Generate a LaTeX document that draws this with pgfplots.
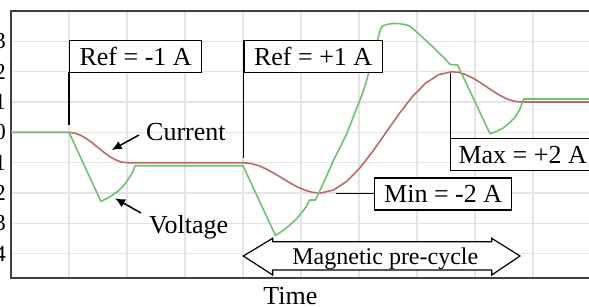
\documentclass[border=0pt]{standalone}
\usepackage{fontspec}
\setmainfont{Liberation Serif}
\usepackage{pgfplots}
\pgfplotsset{compat=1.18}
\usepackage{pgfplotstable}
\usetikzlibrary{arrows.meta}
\definecolor{curred}{RGB}{190,105,105}
\definecolor{volgreen}{RGB}{112,192,112}
\definecolor{framegray}{RGB}{64,64,64}
\definecolor{gridgray}{RGB}{228,228,228}

\pgfplotstableread{
x y
0 0
1 0
1.1 -0.0245
1.2 -0.0955
1.3 -0.2061
1.4 -0.3455
1.5 -0.5
1.6 -0.6545
1.7 -0.7939
1.8 -0.9045
1.9 -0.9755
2 -1
4 -1
4.133 -1.0245
4.267 -1.0955
4.4 -1.2061
4.533 -1.3455
4.667 -1.5
4.8 -1.6545
4.933 -1.7939
5.067 -1.9045
5.2 -1.9755
5.333 -2
5.56 -1.902
5.787 -1.618
6.013 -1.176
6.24 -0.618
6.467 0
6.693 0.618
6.92 1.176
7.147 1.618
7.373 1.902
7.6 2
7.72 1.9755
7.84 1.9045
7.96 1.7939
8.08 1.6545
8.2 1.5
8.32 1.3455
8.44 1.2061
8.56 1.0955
8.68 1.0245
8.8 1
10.5 1
}\currenttable

\pgfplotstableread{
x y
0 0
1 0
1.55 -2.27
1.62 -2.21
1.70 -2.13
1.77 -2.04
1.85 -1.93
1.92 -1.80
1.98 -1.66
2.03 -1.52
2.07 -1.40
2.11 -1.25
2.14 -1.10
4.0 -1.10
4.56 -3.40
4.68 -3.25
4.81 -3.05
4.92 -2.86
5.01 -2.65
5.09 -2.45
5.15 -2.23
5.25 -2.23
5.33 -1.90
5.45 -1.40
5.56 -0.92
5.68 -0.47
5.79 -0.04
5.89 0.45
5.99 0.94
6.07 1.33
6.13 1.70
6.22 2.36
6.30 2.90
6.36 3.34
6.40 3.50
6.48 3.56
6.60 3.59
6.71 3.58
6.80 3.55
6.88 3.50
6.94 3.40
7.05 3.21
7.17 3.00
7.29 2.79
7.40 2.58
7.49 2.41
7.57 2.24
7.70 2.22
8.26 -0.05
8.38 0.04
8.49 0.15
8.60 0.32
8.69 0.50
8.77 0.75
8.84 1.10
10.5 1.10
}\voltagetable

\begin{document}
\begin{tikzpicture}
\begin{axis}[
  at={(11pt,-11pt)}, anchor=north west,
  scale only axis, width=580pt, height=267pt,
  xmin=0, xmax=10, ymin=-4.8, ymax=4,
  xtick={1,...,10}, xticklabels={},
  ytick={-4,...,4}, yticklabels={-4,-3,-2,-1,0,1,2,3,{}},
  major tick length=0pt,
  grid=major, major grid style={gridgray, line width=1.2pt},
  axis line style={framegray, line width=1.5pt},
  yticklabel style={font=\fontsize{23}{23}\selectfont, inner sep=0pt, anchor=east, xshift=-5pt},
]
\addplot[curred, line width=1.6pt] table[x=x,y=y]{\currenttable};
\addplot[volgreen, line width=1.6pt, line join=round] table[x=x,y=y]{\voltagetable};
\end{axis}
\begin{scope}[x=1pt,y=1pt, font=\fontsize{26}{28}\selectfont]
  % Ref = -1 A
  \draw[line width=1.3pt] (69,-72) -- (69,-125);
  \node[draw, line width=1.3pt, fill=white, anchor=north west, minimum width=132pt, minimum height=32pt, inner sep=0pt] at (69,-40) {Ref = -1 A};
  % Ref = +1 A
  \draw[line width=1.3pt] (243.3,-72) -- (243.3,-158);
  \node[draw, line width=1.3pt, fill=white, anchor=north west, minimum width=138.4pt, minimum height=32pt, inner sep=0pt] at (243.3,-40) {Ref = +1 A};
  % Min
  \draw[line width=1.3pt] (336,-193.3) -- (374,-193.3);
  \node[draw, line width=1.3pt, fill=white, anchor=north west, minimum width=137pt, minimum height=32pt, inner sep=0pt] at (374,-177.3) {Min = -2 A};
  % Max
  \draw[line width=1.3pt] (450.7,-73) -- (450.7,-138.3);
  \draw[line width=1.3pt, fill=white] (450.7,-138.3) rectangle (600,-170.5);
  \node[anchor=base east, inner sep=0pt] at (587,-163.3) {Max = +2 A};
  % Current / Voltage
  \node[anchor=base west, inner sep=0pt] at (146,-140) {Current};
  \node[anchor=base west, inner sep=0pt] at (149,-233) {Voltage};
  \draw[line width=1.5pt, -{Latex[length=10pt,width=9pt]}] (139,-135) -- (111.7,-150);
  \draw[line width=1.5pt, -{Latex[length=10pt,width=9pt]}] (141,-213) -- (115,-198.3);
  % Magnetic pre-cycle double arrow
  \draw[line width=1.2pt, fill=white] (243.3,-256) -- (272.7,-238.3) -- (272.7,-241.7) -- (491.7,-241.7) -- (491.7,-238.3) -- (520,-256) -- (491.7,-275) -- (491.7,-270) -- (272.7,-270) -- (272.7,-275) -- cycle;
  \node[anchor=base, inner sep=0pt, font=\fontsize{24}{24}\selectfont] at (385.3,-264.5) {Magnetic pre-cycle};
  % Time
  \node[anchor=base, inner sep=0pt] at (290.3,-304) {Time};
\end{scope}
\pgfresetboundingbox
\path[use as bounding box] (0pt,0pt) rectangle (589pt,-306pt);
\end{tikzpicture}
\end{document}
